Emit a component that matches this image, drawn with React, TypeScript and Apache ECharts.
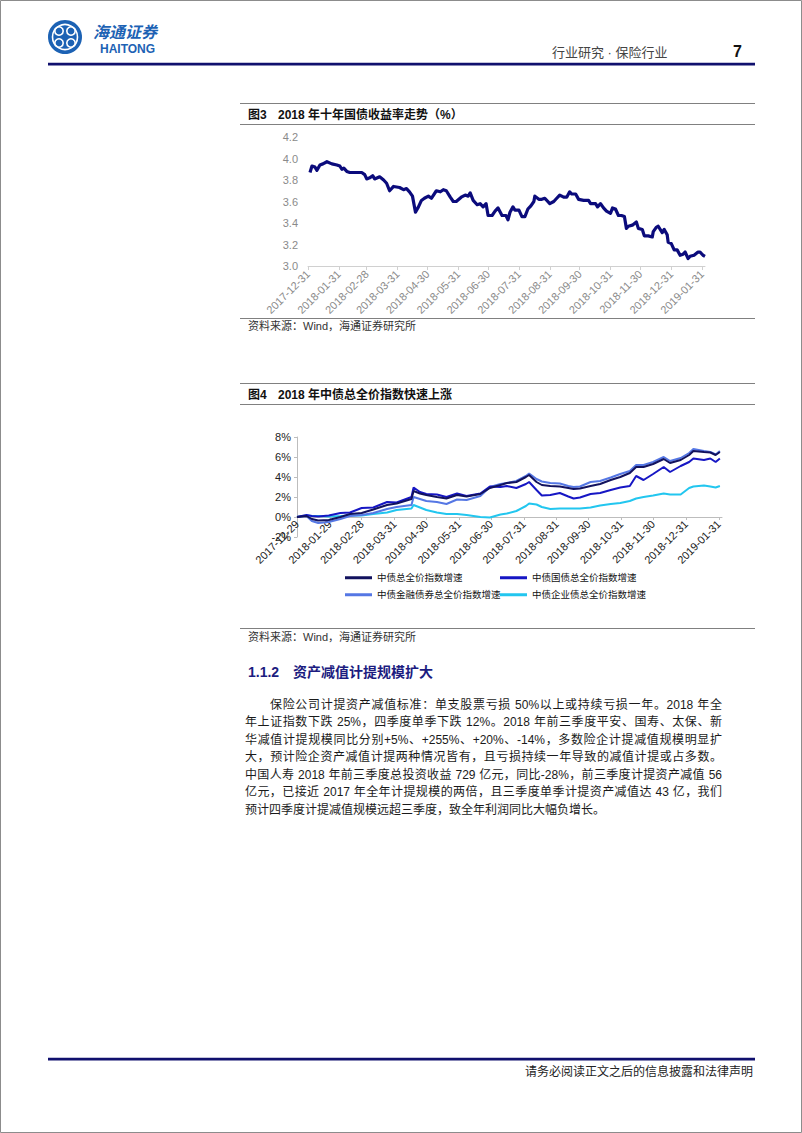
import React, { useEffect, useRef } from "react";
import * as echarts from "echarts";

const FONT = '"Liberation Sans", "Noto Sans CJK SC", sans-serif';

// ---------- Figure 3: 10Y government bond yield ----------
const fig3TickLabels = [
  "2017-12-31", "2018-01-31", "2018-02-28", "2018-03-31", "2018-04-30", "2018-05-31", "2018-06-30",
  "2018-07-31", "2018-08-31", "2018-09-30", "2018-10-31", "2018-11-30", "2018-12-31", "2019-01-31",
];
const fig3Dates = [
  "2018-01-02", "2018-01-04", "2018-01-07", "2018-01-09", "2018-01-12", "2018-01-15", "2018-01-19", "2018-01-24", "2018-01-29", "2018-02-01",
  "2018-02-03", "2018-02-05", "2018-02-08", "2018-02-11", "2018-02-23", "2018-02-26", "2018-02-28", "2018-03-03", "2018-03-06", "2018-03-08",
  "2018-03-13", "2018-03-17", "2018-03-20", "2018-03-23", "2018-03-27", "2018-04-02", "2018-04-06", "2018-04-09", "2018-04-12", "2018-04-15",
  "2018-04-18", "2018-04-21", "2018-04-24", "2018-04-27", "2018-05-01", "2018-05-04", "2018-05-09", "2018-05-13", "2018-05-16", "2018-05-19",
  "2018-05-23", "2018-05-26", "2018-05-29", "2018-06-03", "2018-06-07", "2018-06-10", "2018-06-12", "2018-06-15", "2018-06-19", "2018-06-22",
  "2018-06-25", "2018-06-28", "2018-06-30", "2018-07-04", "2018-07-07", "2018-07-10", "2018-07-14", "2018-07-18", "2018-07-20", "2018-07-22",
  "2018-07-25", "2018-07-27", "2018-07-31", "2018-08-03", "2018-08-06", "2018-08-09", "2018-08-12", "2018-08-15", "2018-08-16", "2018-08-20",
  "2018-08-23", "2018-08-26", "2018-08-31", "2018-09-04", "2018-09-07", "2018-09-10", "2018-09-14", "2018-09-17", "2018-09-20", "2018-09-22",
  "2018-09-26", "2018-09-29", "2018-10-04", "2018-10-09", "2018-10-11", "2018-10-16", "2018-10-18", "2018-10-21", "2018-10-24", "2018-10-27",
  "2018-10-31", "2018-11-02", "2018-11-05", "2018-11-08", "2018-11-11", "2018-11-14", "2018-11-16", "2018-11-18", "2018-11-22", "2018-11-26",
  "2018-11-28", "2018-12-02", "2018-12-04", "2018-12-08", "2018-12-12", "2018-12-13", "2018-12-16", "2018-12-18", "2018-12-22", "2018-12-24",
  "2018-12-27", "2018-12-28", "2018-12-31", "2019-01-03", "2019-01-06", "2019-01-09", "2019-01-12", "2019-01-14", "2019-01-17", "2019-01-19",
  "2019-01-23", "2019-01-27", "2019-01-29", "2019-02-01", "2019-02-03",
];
const fig3Yields = [
  3.87, 3.93, 3.92, 3.89, 3.94, 3.95, 3.97, 3.95, 3.94, 3.93,
  3.90, 3.91, 3.88, 3.87, 3.87, 3.85, 3.81, 3.82, 3.84, 3.81,
  3.83, 3.80, 3.77, 3.70, 3.74, 3.73, 3.71, 3.72, 3.69, 3.65,
  3.50, 3.55, 3.61, 3.63, 3.65, 3.63, 3.70, 3.69, 3.71, 3.70,
  3.64, 3.60, 3.60, 3.64, 3.66, 3.65, 3.68, 3.61, 3.57, 3.58,
  3.55, 3.58, 3.47, 3.47, 3.51, 3.54, 3.47, 3.47, 3.43, 3.50,
  3.55, 3.52, 3.52, 3.46, 3.46, 3.53, 3.56, 3.60, 3.65, 3.62,
  3.62, 3.63, 3.58, 3.60, 3.63, 3.66, 3.64, 3.64, 3.69, 3.67,
  3.67, 3.62, 3.61, 3.61, 3.58, 3.58, 3.55, 3.58, 3.54, 3.51,
  3.49, 3.54, 3.53, 3.47, 3.47, 3.46, 3.35, 3.37, 3.38, 3.41,
  3.35, 3.34, 3.28, 3.28, 3.27, 3.32, 3.36, 3.37, 3.31, 3.34,
  3.29, 3.22, 3.21, 3.15, 3.15, 3.10, 3.11, 3.13, 3.07, 3.09,
  3.10, 3.13, 3.13, 3.10, 3.09,
];

// ---------- Figure 4: ChinaBond index growth ----------
const fig4TickLabels = [
  "2017-12-29", "2018-01-29", "2018-02-28", "2018-03-31", "2018-04-30", "2018-05-31", "2018-06-30",
  "2018-07-31", "2018-08-31", "2018-09-30", "2018-10-31", "2018-11-30", "2018-12-31", "2019-01-31",
];
const fig4Dates = [
  "2017-12-29", "2018-01-07", "2018-01-12", "2018-01-18", "2018-01-28", "2018-02-08", "2018-02-17", "2018-02-28", "2018-03-11", "2018-03-24",
  "2018-04-02", "2018-04-16", "2018-04-18", "2018-04-24", "2018-04-30", "2018-05-10", "2018-05-19", "2018-05-29", "2018-06-07", "2018-06-20",
  "2018-06-29", "2018-07-09", "2018-07-15", "2018-07-24", "2018-08-02", "2018-08-05", "2018-08-12", "2018-08-17", "2018-08-25", "2018-09-03",
  "2018-09-11", "2018-09-16", "2018-09-22", "2018-10-02", "2018-10-11", "2018-10-21", "2018-10-30", "2018-11-08", "2018-11-14", "2018-11-21",
  "2018-11-30", "2018-12-10", "2018-12-16", "2018-12-26", "2019-01-03", "2019-01-07", "2019-01-17", "2019-01-23", "2019-01-28", "2019-02-01",
];
const fig4Total = [
  0, 0.1, -0.2, -0.35, -0.3, 0.0, 0.3, 0.4, 0.75, 1.2,
  1.35, 1.8, 2.6, 2.35, 2.2, 2.0, 1.85, 2.2, 2.05, 2.3,
  2.9, 3.2, 3.4, 3.5, 4.0, 4.2, 3.5, 3.2, 3.1, 3.05,
  2.9, 2.8, 2.85, 3.1, 3.3, 3.7, 4.0, 4.4, 5.0, 5.0,
  5.3, 5.8, 5.4, 5.7, 6.2, 6.6, 6.5, 6.45, 6.2, 6.5,
];
const fig4Treasury = [
  0, 0.2, 0.1, 0.05, 0.15, 0.4, 0.45, 0.9, 0.95, 1.5,
  1.45, 2.0, 2.95, 2.5, 2.3, 2.25, 2.0, 2.35, 2.1, 2.35,
  3.05, 3.0, 3.1, 2.9, 3.3, 3.5, 2.7, 2.15, 2.2, 2.4,
  2.05, 1.85, 1.95, 2.3, 2.4, 2.7, 2.95, 3.1, 4.1, 3.7,
  4.3, 5.0, 4.5, 5.1, 5.5, 5.85, 5.7, 5.85, 5.5, 5.85,
];
const fig4Financial = [
  0, 0.1, -0.4, -0.6, -0.5, -0.2, 0.1, 0.2, 0.4, 0.8,
  1.0, 1.2, 2.0, 1.8, 1.6, 1.5, 1.3, 1.75, 1.7, 2.1,
  3.0, 3.3, 3.4, 3.6, 4.1, 4.35, 3.8, 3.55, 3.4, 3.35,
  3.1, 3.0, 3.05, 3.5, 3.6, 3.95, 4.3, 4.6, 5.2, 5.2,
  5.5, 6.0, 5.6, 5.9, 6.4, 6.8, 6.6, 6.5, 6.25, 6.6,
];
const fig4Corporate = [
  0, 0.15, 0.1, 0.1, 0.05, 0.1, 0.15, 0.15, 0.3, 0.45,
  0.7, 0.85, 1.2, 0.95, 0.7, 0.45, 0.3, 0.3, 0.2, 0.0,
  -0.05, 0.25, 0.35, 0.6, 1.1, 1.35, 1.25, 1.0, 0.8, 0.85,
  0.85, 0.85, 0.85, 0.95, 1.15, 1.3, 1.4, 1.6, 1.85, 2.0,
  2.15, 2.35, 2.25, 2.25, 2.9, 3.05, 3.15, 3.05, 2.95, 3.1,
];
const fig4Names = ["中债总全价指数增速", "中债国债总全价指数增速", "中债金融债券总全价指数增速", "中债企业债总全价指数增速"];
const fig4Colors = ["#12125e", "#1616c4", "#5577e4", "#22c6ef"];

// ---------- Page text ----------
const headerRight = "行业研究 · 保险行业";
const pageNumber = "7";
const fig3Label = "图3";
const fig3Title = "2018 年十年国债收益率走势（%）";
const fig4Label = "图4";
const fig4Title = "2018 年中债总全价指数快速上涨";
const sourceText = "资料来源：Wind，海通证券研究所";
const sectionNo = "1.1.2";
const sectionTitle = "资产减值计提规模扩大";
const paragraphLines = [
  "保险公司计提资产减值标准：单支股票亏损 50%以上或持续亏损一年。2018 年全",
  "年上证指数下跌 25%，四季度单季下跌 12%。2018 年前三季度平安、国寿、太保、新",
  "华减值计提规模同比分别+5%、+255%、+20%、-14%，多数险企计提减值规模明显扩",
  "大，预计险企资产减值计提两种情况皆有，且亏损持续一年导致的减值计提或占多数。",
  "中国人寿 2018 年前三季度总投资收益 729 亿元，同比-28%，前三季度计提资产减值 56",
  "亿元，已接近 2017 年全年计提规模的两倍，且三季度单季计提资产减值达 43 亿，我们",
  "预计四季度计提减值规模远超三季度，致全年利润同比大幅负增长。",
];
const footerText = "请务必阅读正文之后的信息披露和法律声明";

const toTs = (s: string) => {
  const [y, m, d] = s.split("-").map(Number);
  return new Date(y, m - 1, d).getTime();
};
const fmtDate = (v: number) => {
  const d = new Date(v);
  return `${d.getFullYear()}-${String(d.getMonth() + 1).padStart(2, "0")}-${String(d.getDate()).padStart(2, "0")}`;
};

const txt = (x: number, y: number, text: string, opts: any = {}) => ({
  type: "text",
  x,
  y,
  silent: true,
  style: {
    text,
    fill: opts.fill || "#222",
    fontSize: opts.fontSize || 12,
    fontWeight: opts.fontWeight || "normal",
    fontStyle: opts.fontStyle || "normal",
    fontFamily: opts.fontFamily || FONT,
    textAlign: opts.align || "left",
    align: opts.align || "left",
    textVerticalAlign: "middle",
    verticalAlign: "middle",
  },
});
const hline = (x1: number, x2: number, y: number, stroke: string, lineWidth: number) => ({
  type: "line",
  silent: true,
  shape: { x1, y1: y, x2, y2: y },
  style: { stroke, lineWidth },
});

function buildOption() {
  const fig3Data = fig3Dates.map((d, i) => [toTs(d), fig3Yields[i]]);
  const fig4Series = [fig4Total, fig4Treasury, fig4Financial, fig4Corporate];
  const navy = "#10106e";
  const logoBlue = "#1c62b4";

  const graphic: any[] = [
    { type: "rect", silent: true, shape: { x: 0.5, y: 0.5, width: 801, height: 1132 }, style: { fill: "none", stroke: "#8c8c8c", lineWidth: 1 } },
    // logo
    { type: "circle", silent: true, shape: { cx: 65, cy: 37, r: 17 }, style: { fill: logoBlue } },
    { type: "circle", silent: true, shape: { cx: 65, cy: 37, r: 12.5 }, style: { fill: "none", stroke: "#fff", lineWidth: 1.6 } },
    { type: "circle", silent: true, shape: { cx: 59, cy: 31, r: 4.2 }, style: { fill: "none", stroke: "#fff", lineWidth: 1.6 } },
    { type: "circle", silent: true, shape: { cx: 71, cy: 31, r: 4.2 }, style: { fill: "none", stroke: "#fff", lineWidth: 1.6 } },
    { type: "circle", silent: true, shape: { cx: 59, cy: 43, r: 4.2 }, style: { fill: "none", stroke: "#fff", lineWidth: 1.6 } },
    { type: "circle", silent: true, shape: { cx: 71, cy: 43, r: 4.2 }, style: { fill: "none", stroke: "#fff", lineWidth: 1.6 } },
    txt(93, 32, "海通证券", { fontSize: 16, fill: logoBlue, fontWeight: "bold", fontStyle: "italic" }),
    txt(100, 48.5, "HAITONG", { fontSize: 12, fill: logoBlue, fontWeight: "bold" }),
    txt(552, 52, headerRight, { fontSize: 13, fill: "#444" }),
    txt(733, 51, pageNumber, { fontSize: 16, fontWeight: "bold", fill: "#111" }),
    { type: "rect", silent: true, shape: { x: 48, y: 62.8, width: 707, height: 2.6 }, style: { fill: navy } },

    // figure 3 frame
    hline(240, 755, 103.5, "#808080", 1),
    txt(248, 115, fig3Label, { fontSize: 12, fontWeight: "bold", fill: "#111" }),
    txt(278, 115, fig3Title, { fontSize: 12, fontWeight: "bold", fill: "#111" }),
    hline(240, 755, 124.5, "#808080", 1),
    hline(240, 755, 318.5, "#808080", 1),
    txt(248, 326, sourceText, { fontSize: 11, fill: "#333" }),

    // figure 4 frame
    hline(240, 755, 383.5, "#808080", 1),
    txt(248, 395, fig4Label, { fontSize: 12, fontWeight: "bold", fill: "#111" }),
    txt(278, 395, fig4Title, { fontSize: 12, fontWeight: "bold", fill: "#111" }),
    hline(240, 755, 404.5, "#808080", 1),
    hline(240, 755, 628.5, "#808080", 1),
    txt(248, 637, sourceText, { fontSize: 11, fill: "#333" }),

    // section heading
    txt(248, 672, sectionNo, { fontSize: 14, fontWeight: "bold", fill: "#1c1c80" }),
    txt(293, 672, sectionTitle, { fontSize: 14, fontWeight: "bold", fill: "#1c1c80" }),

    // footer
    { type: "rect", silent: true, shape: { x: 48, y: 1057.8, width: 707, height: 2.6 }, style: { fill: navy } },
    txt(753, 1072, footerText, { fontSize: 12, fill: "#222", align: "right" }),
  ];

  const legendPos = [
    { left: 345, top: 573 },
    { left: 500, top: 573 },
    { left: 345, top: 590 },
    { left: 500, top: 590 },
  ];

  return {
    animation: false,
    backgroundColor: "#ffffff",
    textStyle: { fontFamily: FONT },
    grid: [
      { left: 308, top: 137, width: 397, height: 129, containLabel: false },
      { left: 297, top: 437, width: 425, height: 100, containLabel: false },
    ],
    legend: fig4Names.map((name, i) => ({
      data: [name],
      left: legendPos[i].left,
      top: legendPos[i].top,
      icon: "rect",
      itemWidth: 27,
      itemHeight: 3,
      itemGap: 5,
      padding: 0,
      selectedMode: false,
      textStyle: { fontSize: 9.5, color: "#111", fontFamily: FONT },
    })),
    xAxis: [
      {
        type: "value",
        gridIndex: 0,
        min: toTs("2017-12-31"),
        max: toTs("2019-02-03"),
        axisLine: { show: true, lineStyle: { color: "#d0d0d0", width: 1 } },
        axisTick: { show: true, length: 4, lineStyle: { color: "#d0d0d0" }, customValues: fig3TickLabels.map(toTs) },
        axisLabel: {
          customValues: fig3TickLabels.map(toTs),
          formatter: (v: number) => fmtDate(v),
          rotate: 45,
          fontSize: 11,
          color: "#8a8a8a",
          margin: 6,
          fontFamily: FONT,
          showMinLabel: true,
          showMaxLabel: true,
        },
        splitLine: { show: false },
      },
      {
        type: "value",
        gridIndex: 1,
        min: toTs("2017-12-29"),
        max: toTs("2019-02-03"),
        axisLine: { show: true, onZero: true, lineStyle: { color: "#bdbdbd", width: 1 } },
        axisTick: { show: true, length: 3, lineStyle: { color: "#bdbdbd" }, customValues: fig4TickLabels.map(toTs) },
        axisLabel: {
          customValues: fig4TickLabels.map(toTs),
          formatter: (v: number) => fmtDate(v),
          rotate: 45,
          fontSize: 11,
          color: "#222",
          margin: -15,
          fontFamily: FONT,
          showMinLabel: true,
          showMaxLabel: true,
        },
        splitLine: { show: false },
      },
    ],
    yAxis: [
      {
        type: "value",
        gridIndex: 0,
        min: 3.0,
        max: 4.2,
        interval: 0.2,
        axisLine: { show: false },
        axisTick: { show: false },
        splitLine: { show: false },
        axisLabel: { formatter: (v: number) => v.toFixed(1), fontSize: 11, color: "#8a8a8a", margin: 10, fontFamily: FONT },
      },
      {
        type: "value",
        gridIndex: 1,
        min: -2,
        max: 8,
        interval: 2,
        axisLine: { show: true, lineStyle: { color: "#bdbdbd", width: 1 } },
        axisTick: { show: true, length: 3, lineStyle: { color: "#bdbdbd" } },
        splitLine: { show: false },
        axisLabel: { formatter: (v: number) => `${v}%`, fontSize: 11, color: "#222", margin: 6, fontFamily: FONT },
      },
    ],
    series: [
      {
        name: "十年国债收益率",
        type: "line",
        xAxisIndex: 0,
        yAxisIndex: 0,
        data: fig3Data,
        symbol: "none",
        lineStyle: { color: "#0b0b7c", width: 3.2, join: "round" },
        itemStyle: { color: "#0b0b7c" },
        silent: true,
      },
      ...fig4Names.map((name, i) => ({
        name,
        type: "line",
        xAxisIndex: 1,
        yAxisIndex: 1,
        data: fig4Dates.map((d, j) => [toTs(d), fig4Series[i][j]]),
        symbol: "none",
        lineStyle: { color: fig4Colors[i], width: 2 },
        itemStyle: { color: fig4Colors[i] },
        silent: true,
        z: 2 + (3 - i),
      })),
    ],
    graphic,
  };
}

export default function App() {
  const ref = useRef<HTMLDivElement>(null);
  useEffect(() => {
    if (!ref.current) return;
    const chart = echarts.init(ref.current, null, { renderer: "svg", width: 802, height: 1133 });
    chart.setOption(buildOption() as any);
    return () => chart.dispose();
  }, []);

  const lineTops = [696.5, 714, 731.5, 749, 766.5, 784, 801.5];
  return (
    <div style={{ position: "absolute", left: 0, top: 0, width: 802, height: 1133, background: "#fff", overflow: "hidden" }}>
      <div ref={ref} style={{ position: "absolute", left: 0, top: 0, width: 802, height: 1133 }} />
      {paragraphLines.map((line, i) => {
        const last = i === paragraphLines.length - 1;
        const left = i === 0 ? 270 : 245;
        return (
          <div
            key={i}
            style={{
              position: "absolute",
              left,
              top: lineTops[i],
              width: 722 - left,
              fontSize: 12,
              lineHeight: "17px",
              height: 17,
              color: "#1a1a1a",
              fontFamily: FONT,
              textAlign: last ? "left" : "justify",
              textAlignLast: last ? "left" : "justify",
              overflow: "visible",
            } as any}
          >
            {line}
          </div>
        );
      })}
    </div>
  );
}
